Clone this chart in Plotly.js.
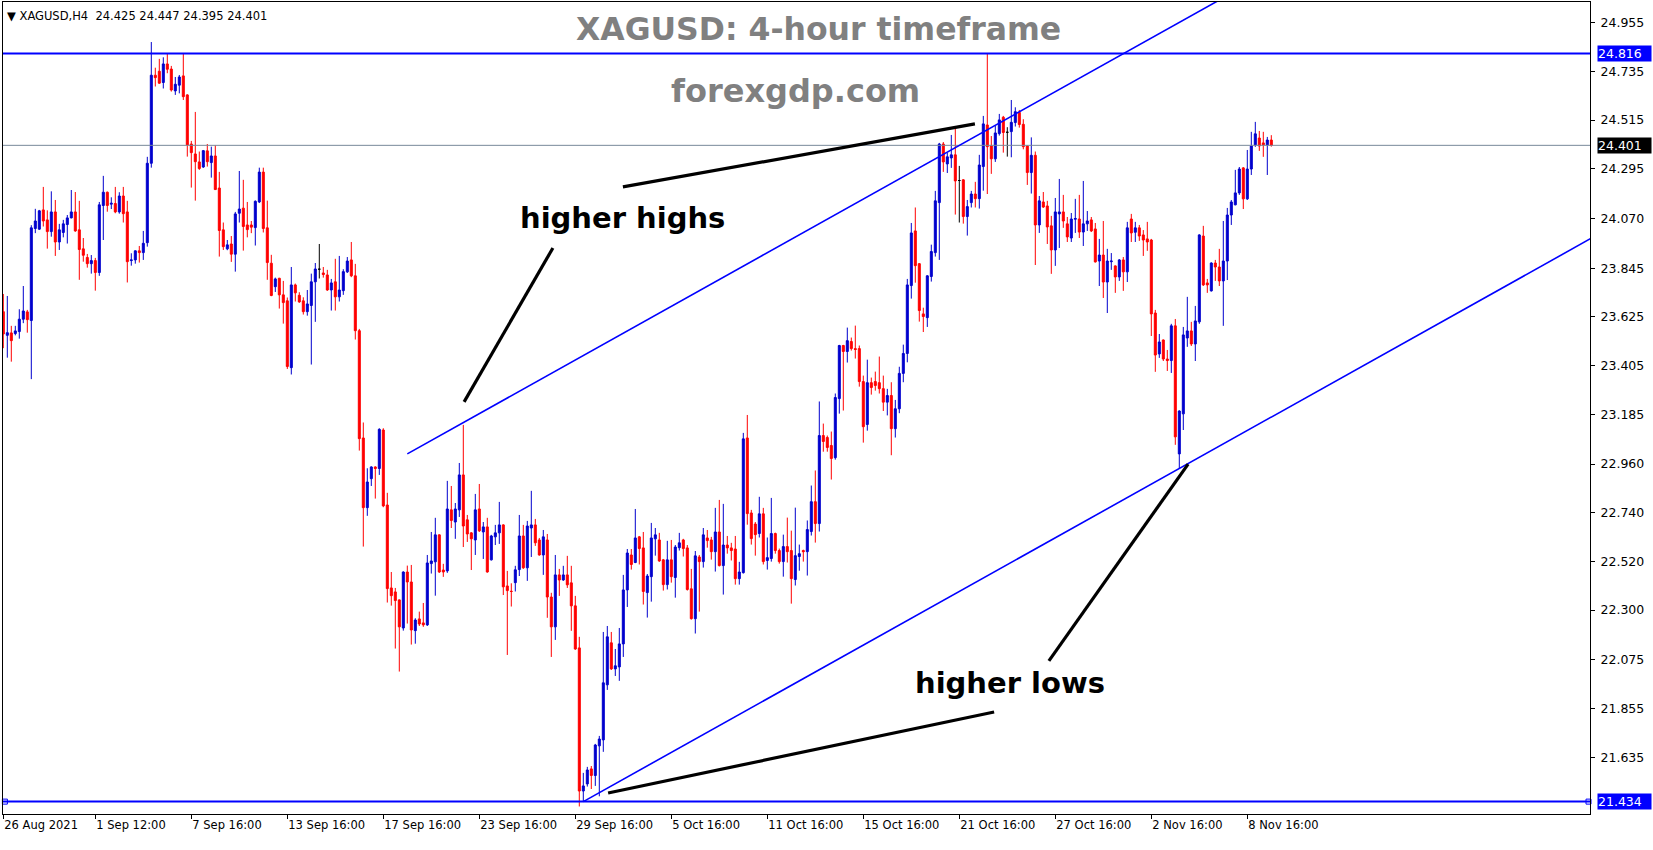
<!DOCTYPE html>
<html>
<head>
<meta charset="utf-8">
<script src="https://cdn.plot.ly/plotly-3.0.1.min.js"></script>
<style>
  html, body { margin: 0; padding: 0; background: #ffffff; }
  #chart { width: 1653px; height: 850px; }
</style>
</head>
<body>
<div id="chart"></div>
<script>
// XAGUSD H4 bars, oldest first (bar index 0 = 26 Aug 2021)
const symbolName = 'XAGUSD,H4';

const openP = [
  23.649, 23.542, 23.553, 23.550, 23.559, 23.615, 23.648, 23.609, 24.025, 24.022,
  24.109, 24.064, 24.011, 24.100, 23.964, 24.007, 24.043, 24.073, 24.100, 24.019,
  23.933, 23.894, 23.866, 23.880, 23.826, 24.129, 24.189, 24.135, 24.138, 24.100,
  24.172, 24.100, 23.880, 23.883, 23.924, 23.916, 23.961, 24.320, 24.718, 24.736,
  24.685, 24.769, 24.746, 24.647, 24.673, 24.715, 24.629, 24.407, 24.362, 24.326,
  24.303, 24.376, 24.323, 24.353, 24.208, 24.019, 23.933, 23.955, 23.909, 24.094,
  24.117, 24.041, 24.041, 24.029, 24.145, 24.280, 24.028, 23.868, 23.762, 23.800,
  23.725, 23.698, 23.396, 23.770, 23.723, 23.698, 23.649, 23.677, 23.784, 23.841,
  23.824, 23.815, 23.747, 23.784, 23.716, 23.744, 23.829, 23.883, 23.811, 23.563,
  23.078, 22.763, 22.894, 22.947, 22.940, 23.114, 22.775, 22.400, 22.382, 22.346,
  22.219, 22.472, 22.427, 22.207, 22.260, 22.242, 22.233, 22.510, 22.518, 22.640,
  22.481, 22.477, 22.753, 22.698, 22.753, 22.911, 22.708, 22.649, 22.617, 22.757,
  22.653, 22.676, 22.527, 22.631, 22.649, 22.685, 22.409, 22.385, 22.424, 22.483,
  22.635, 22.491, 22.671, 22.685, 22.617, 22.549, 22.617, 22.359, 22.224, 22.459,
  22.436, 22.459, 22.423, 22.319, 22.129, 21.482, 21.514, 21.582, 21.552, 21.686,
  21.713, 21.962, 22.152, 22.034, 22.043, 22.147, 22.391, 22.549, 22.515, 22.631,
  22.581, 22.379, 22.451, 22.622, 22.617, 22.527, 22.415, 22.527, 22.447, 22.582,
  22.617, 22.581, 22.396, 22.261, 22.540, 22.519, 22.626, 22.617, 22.564, 22.653,
  22.501, 22.594, 22.581, 22.576, 22.442, 22.469, 23.078, 22.739, 22.689, 22.646,
  22.735, 22.524, 22.533, 22.646, 22.569, 22.519, 22.587, 22.569, 22.438, 22.542,
  22.569, 22.564, 22.655, 22.790, 22.691, 23.089, 23.080, 23.044, 22.989, 23.256,
  23.496, 23.469, 23.514, 23.482, 23.482, 23.333, 23.139, 23.328, 23.333, 23.328,
  23.301, 23.240, 23.270, 23.120, 23.210, 23.370, 23.460, 23.767, 24.014, 23.866,
  23.639, 23.622, 23.808, 23.916, 24.142, 24.407, 24.317, 24.344, 24.358, 24.242,
  24.245, 24.079, 24.142, 24.181, 24.160, 24.305, 24.493, 24.398, 24.340, 24.454,
  24.528, 24.460, 24.463, 24.504, 24.550, 24.496, 24.398, 24.278, 24.356, 24.041,
  24.145, 24.127, 24.037, 23.928, 24.091, 24.100, 24.046, 23.982, 24.067, 24.068,
  24.009, 24.046, 24.064, 24.023, 23.878, 23.905, 23.783, 23.875, 23.856, 23.806,
  23.883, 23.829, 24.068, 24.008, 24.028, 23.996, 23.978, 23.973, 23.643, 23.458,
  23.521, 23.435, 23.428, 23.585, 23.006, 23.187, 23.530, 23.562, 23.503, 23.603,
  23.991, 23.779, 23.743, 23.869, 23.851, 23.788, 23.878, 24.086, 24.132, 24.186,
  24.299, 24.159, 24.294, 24.403, 24.434, 24.412, 24.403, 24.425
];

const highP = [
  23.729, 23.720, 23.585, 23.585, 23.660, 23.765, 23.657, 24.040, 24.114, 24.109,
  24.213, 24.107, 24.193, 24.154, 24.046, 24.064, 24.086, 24.199, 24.190, 24.150,
  23.982, 23.910, 23.905, 23.892, 24.145, 24.263, 24.192, 24.166, 24.213, 24.189,
  24.213, 24.150, 23.913, 23.926, 23.946, 24.014, 24.349, 24.868, 24.752, 24.792,
  24.799, 24.817, 24.760, 24.710, 24.719, 24.817, 24.632, 24.421, 24.552, 24.373,
  24.380, 24.407, 24.395, 24.401, 24.281, 24.052, 23.973, 23.991, 24.100, 24.285,
  24.245, 24.145, 24.059, 24.152, 24.300, 24.300, 24.151, 23.906, 23.803, 23.802,
  23.788, 23.713, 23.851, 23.776, 23.737, 23.714, 23.747, 23.821, 23.869, 23.955,
  23.851, 23.838, 23.797, 23.888, 23.901, 23.841, 23.896, 23.964, 23.865, 23.571,
  23.148, 22.941, 22.950, 22.950, 23.122, 23.122, 22.830, 22.472, 22.400, 22.348,
  22.475, 22.501, 22.504, 22.263, 22.293, 22.332, 22.549, 22.653, 22.717, 22.642,
  22.509, 22.884, 22.861, 22.784, 22.965, 23.137, 22.730, 22.652, 22.825, 22.870,
  22.698, 22.717, 22.640, 22.685, 22.789, 22.688, 22.477, 22.421, 22.500, 22.730,
  22.685, 22.703, 22.839, 22.712, 22.626, 22.662, 22.644, 22.378, 22.549, 22.486,
  22.500, 22.545, 22.500, 22.364, 22.179, 21.564, 21.591, 21.595, 21.695, 21.731,
  22.201, 22.228, 22.201, 22.124, 22.219, 22.459, 22.576, 22.576, 22.757, 22.635,
  22.653, 22.463, 22.694, 22.671, 22.649, 22.531, 22.613, 22.617, 22.594, 22.649,
  22.622, 22.594, 22.486, 22.567, 22.549, 22.671, 22.662, 22.631, 22.762, 22.798,
  22.780, 22.635, 22.604, 22.635, 22.518, 23.101, 23.182, 22.753, 22.698, 22.812,
  22.762, 22.628, 22.807, 22.650, 22.578, 22.641, 22.718, 22.659, 22.763, 22.596,
  22.573, 22.705, 22.863, 22.931, 23.243, 23.143, 23.089, 23.107, 23.279, 23.499,
  23.499, 23.577, 23.532, 23.586, 23.496, 23.360, 23.432, 23.351, 23.378, 23.446,
  23.360, 23.300, 23.330, 23.250, 23.400, 23.500, 23.797, 24.050, 24.120, 23.869,
  23.667, 23.814, 23.952, 24.195, 24.412, 24.416, 24.367, 24.448, 24.475, 24.308,
  24.248, 24.154, 24.195, 24.236, 24.358, 24.534, 24.816, 24.443, 24.489, 24.543,
  24.534, 24.483, 24.606, 24.573, 24.561, 24.519, 24.400, 24.437, 24.373, 24.172,
  24.190, 24.150, 24.082, 24.163, 24.249, 24.177, 24.077, 24.095, 24.159, 24.177,
  24.240, 24.104, 24.077, 24.050, 23.978, 24.059, 23.933, 23.914, 23.858, 23.887,
  23.896, 24.055, 24.091, 24.055, 24.041, 24.018, 24.055, 23.978, 23.657, 23.548,
  23.523, 23.476, 23.594, 23.616, 23.203, 23.580, 23.716, 23.603, 23.675, 23.999,
  24.037, 23.797, 23.872, 23.883, 23.933, 24.059, 24.118, 24.154, 24.290, 24.303,
  24.303, 24.380, 24.462, 24.507, 24.466, 24.462, 24.439, 24.447
];

const lowP = [
  23.484, 23.441, 23.423, 23.542, 23.527, 23.597, 23.554, 23.344, 24.004, 24.019,
  24.034, 23.934, 23.988, 23.901, 23.928, 23.985, 23.957, 24.071, 24.010, 23.793,
  23.875, 23.848, 23.821, 23.744, 23.811, 23.973, 24.101, 24.113, 24.094, 24.092,
  24.052, 23.781, 23.857, 23.866, 23.871, 23.883, 23.943, 24.300, 24.667, 24.679,
  24.658, 24.727, 24.644, 24.629, 24.636, 24.606, 24.350, 24.210, 24.151, 24.290,
  24.299, 24.305, 24.255, 24.199, 23.898, 23.928, 23.927, 23.874, 23.830, 24.052,
  23.925, 23.985, 24.004, 23.948, 24.140, 24.007, 23.793, 23.719, 23.738, 23.663,
  23.595, 23.390, 23.365, 23.695, 23.689, 23.636, 23.631, 23.410, 23.603, 23.799,
  23.803, 23.743, 23.654, 23.654, 23.695, 23.725, 23.824, 23.805, 23.523, 23.021,
  22.587, 22.726, 22.861, 22.804, 22.911, 22.765, 22.334, 22.320, 22.126, 22.022,
  22.207, 22.239, 22.144, 22.148, 22.228, 22.224, 22.228, 22.465, 22.365, 22.468,
  22.450, 22.468, 22.671, 22.622, 22.721, 22.585, 22.608, 22.481, 22.549, 22.653,
  22.531, 22.469, 22.524, 22.594, 22.599, 22.368, 22.097, 22.316, 22.384, 22.454,
  22.486, 22.432, 22.540, 22.590, 22.546, 22.459, 22.265, 22.088, 22.165, 22.364,
  22.432, 22.400, 22.206, 22.120, 21.412, 21.434, 21.502, 21.491, 21.505, 21.458,
  21.659, 21.939, 22.029, 22.002, 21.980, 22.088, 22.314, 22.483, 22.512, 22.506,
  22.325, 22.266, 22.338, 22.546, 22.518, 22.388, 22.393, 22.424, 22.356, 22.569,
  22.542, 22.388, 22.257, 22.194, 22.293, 22.492, 22.582, 22.528, 22.474, 22.497,
  22.370, 22.555, 22.524, 22.415, 22.415, 22.465, 22.686, 22.596, 22.546, 22.628,
  22.506, 22.483, 22.519, 22.555, 22.510, 22.451, 22.515, 22.329, 22.411, 22.478,
  22.519, 22.456, 22.637, 22.605, 22.655, 23.016, 23.016, 22.890, 22.980, 23.188,
  23.202, 23.419, 23.473, 23.437, 23.310, 23.057, 23.111, 23.274, 23.292, 23.279,
  23.200, 23.180, 23.000, 23.080, 23.190, 23.330, 23.420, 23.708, 23.780, 23.604,
  23.557, 23.580, 23.785, 23.898, 23.883, 24.281, 24.276, 24.299, 24.088, 24.052,
  24.047, 23.993, 24.120, 24.120, 24.115, 24.196, 24.181, 24.272, 24.326, 24.445,
  24.368, 24.350, 24.347, 24.486, 24.481, 24.383, 24.222, 24.183, 23.860, 24.005,
  24.118, 23.955, 23.820, 23.856, 23.937, 24.028, 23.964, 23.964, 24.005, 23.982,
  23.946, 24.014, 24.009, 23.871, 23.765, 23.711, 23.643, 23.838, 23.734, 23.788,
  23.743, 23.783, 23.964, 23.964, 23.969, 23.901, 23.924, 23.539, 23.377, 23.440,
  23.426, 23.381, 23.372, 23.047, 22.940, 23.114, 23.490, 23.494, 23.426, 23.594,
  23.765, 23.734, 23.740, 23.788, 23.765, 23.585, 23.792, 24.041, 24.130, 24.177,
  24.113, 24.154, 24.267, 24.394, 24.376, 24.349, 24.267, 24.395
];

const closeP = [
  23.548, 23.554, 23.518, 23.562, 23.615, 23.652, 23.613, 24.028, 24.059, 24.105,
  24.059, 24.011, 24.100, 23.964, 24.019, 24.046, 24.073, 24.100, 24.014, 23.930,
  23.904, 23.866, 23.880, 23.826, 24.132, 24.189, 24.129, 24.139, 24.100, 24.172,
  24.092, 23.875, 23.883, 23.924, 23.916, 23.958, 24.320, 24.718, 24.707, 24.682,
  24.769, 24.745, 24.651, 24.677, 24.710, 24.621, 24.403, 24.368, 24.327, 24.296,
  24.377, 24.327, 24.353, 24.201, 24.016, 23.943, 23.951, 23.909, 24.091, 24.113,
  24.034, 24.020, 24.031, 24.148, 24.280, 24.025, 23.871, 23.722, 23.797, 23.725,
  23.690, 23.401, 23.770, 23.734, 23.693, 23.649, 23.684, 23.784, 23.842, 23.841,
  23.817, 23.747, 23.779, 23.716, 23.747, 23.830, 23.878, 23.811, 23.563, 23.075,
  22.763, 22.879, 22.947, 22.940, 23.117, 22.771, 22.397, 22.365, 22.343, 22.224,
  22.472, 22.427, 22.210, 22.255, 22.237, 22.233, 22.513, 22.522, 22.640, 22.472,
  22.472, 22.757, 22.705, 22.757, 22.911, 22.680, 22.644, 22.622, 22.753, 22.658,
  22.676, 22.472, 22.635, 22.649, 22.685, 22.405, 22.388, 22.384, 22.482, 22.635,
  22.491, 22.680, 22.685, 22.604, 22.549, 22.631, 22.359, 22.224, 22.459, 22.436,
  22.459, 22.414, 22.319, 22.124, 21.482, 21.505, 21.577, 21.552, 21.690, 21.717,
  21.971, 22.179, 22.034, 22.048, 22.147, 22.391, 22.558, 22.506, 22.626, 22.578,
  22.384, 22.454, 22.626, 22.640, 22.522, 22.415, 22.527, 22.451, 22.585, 22.604,
  22.578, 22.393, 22.261, 22.545, 22.519, 22.640, 22.614, 22.564, 22.653, 22.501,
  22.594, 22.581, 22.569, 22.442, 22.472, 23.074, 22.736, 22.623, 22.641, 22.735,
  22.519, 22.537, 22.646, 22.569, 22.519, 22.587, 22.564, 22.442, 22.546, 22.555,
  22.564, 22.664, 22.790, 22.691, 23.089, 23.062, 23.035, 22.985, 23.261, 23.496,
  23.469, 23.518, 23.482, 23.478, 23.333, 23.129, 23.328, 23.306, 23.315, 23.301,
  23.240, 23.270, 23.120, 23.210, 23.370, 23.460, 23.770, 24.005, 23.857, 23.654,
  23.627, 23.811, 23.921, 24.150, 24.407, 24.326, 24.349, 24.358, 24.240, 24.242,
  24.079, 24.124, 24.181, 24.160, 24.312, 24.498, 24.395, 24.340, 24.457, 24.516,
  24.459, 24.460, 24.505, 24.553, 24.495, 24.395, 24.278, 24.356, 24.041, 24.150,
  24.122, 24.032, 23.928, 24.100, 24.100, 24.059, 23.987, 24.068, 24.070, 24.009,
  24.046, 24.059, 24.014, 23.874, 23.905, 23.783, 23.878, 23.878, 23.806, 23.883,
  23.829, 24.028, 24.005, 24.028, 23.991, 23.973, 23.964, 23.639, 23.453, 23.512,
  23.435, 23.428, 23.585, 23.083, 23.200, 23.544, 23.562, 23.503, 23.607, 23.996,
  23.770, 23.770, 23.869, 23.851, 23.788, 23.878, 24.086, 24.145, 24.186, 24.294,
  24.159, 24.294, 24.398, 24.453, 24.398, 24.403, 24.425, 24.401
];

// Time-scale labels (bar index -> label)
const tickBars = [0, 23, 47, 71, 95, 119, 143, 167, 191, 215, 239, 263, 287, 311];
const tickLabels = ['26 Aug 2021', '1 Sep 12:00', '7 Sep 16:00', '13 Sep 16:00', '17 Sep 16:00',
  '23 Sep 16:00', '29 Sep 16:00', '5 Oct 16:00', '11 Oct 16:00', '15 Oct 16:00',
  '21 Oct 16:00', '27 Oct 16:00', '2 Nov 16:00', '8 Nov 16:00'];

// Price-scale labels
const priceTicks = [24.955, 24.735, 24.515, 24.295, 24.070, 23.845, 23.625, 23.405,
  23.185, 22.960, 22.740, 22.520, 22.300, 22.075, 21.855, 21.635];

// Horizontal levels
const resistanceLevel = 24.816;
const supportLevel = 21.434;

// Channel trend lines: two anchor points each (bar index, price)
const upperChannelBars = [101, 250.4];
const upperChannelPrices = [23.006, 24.516];
const lowerChannelBars = [145, 294];
const lowerChannelPrices = [21.434, 22.940];

// Pointer strokes for the notes: [bar0, price0, bar1, price1]
const pointerHighsA = [115.2, 23.241, 137.4, 23.937];
const pointerHighsB = [154.9, 24.213, 242.9, 24.498];
const pointerLowsA = [151.2, 21.473, 247.7, 21.839];
const pointerLowsB = [261.4, 22.070, 296.2, 22.960];

// Text notes: [bar, price]
const titlePos = [203.9, 24.929];
const sitePos = [198.0, 24.648];
const highsNotePos = [154.9, 24.073];
const lowsNotePos = [251.6, 21.971];

const upColor = '#0000cd';
const downColor = '#ff0000';
const lineBlue = '#0000ff';
const fontFamily = 'DejaVu Sans, Verdana, sans-serif';
const axisFont = {family: fontFamily, size: 11.5, color: '#000000'};
const priceFont = {family: fontFamily, size: 12.5, color: '#000000'};

const barIdx = openP.map((_, i) => i);
const bodyBars = barIdx.filter(i => openP[i] !== closeP[i]);
const dojiBars = barIdx.filter(i => openP[i] === closeP[i]);
const pick = (arr, ids) => ids.map(i => arr[i]);

const lastBar = closeP.length - 1;
const lastClose = closeP[lastBar];

const xMin = -0.075, xMax = 396.675;
const yMin = 21.378, yMax = 25.049;

function extendRay(bars, prices, toBar) {
  const slope = (prices[1] - prices[0]) / (bars[1] - bars[0]);
  return {x0: bars[0], y0: prices[0], x1: toBar, y1: prices[0] + slope * (toBar - bars[0])};
}

const traces = [
  {
    type: 'candlestick',
    x: bodyBars,
    open: pick(openP, bodyBars),
    high: pick(highP, bodyBars),
    low: pick(lowP, bodyBars),
    close: pick(closeP, bodyBars),
    increasing: {line: {color: upColor, width: 1}, fillcolor: upColor},
    decreasing: {line: {color: downColor, width: 1}, fillcolor: downColor},
    whiskerwidth: 0,
    hoverinfo: 'skip',
    showlegend: false
  },
  {
    type: 'candlestick',
    x: dojiBars,
    open: pick(openP, dojiBars),
    high: pick(highP, dojiBars),
    low: pick(lowP, dojiBars),
    close: pick(closeP, dojiBars),
    increasing: {line: {color: '#000000', width: 1}, fillcolor: '#000000'},
    decreasing: {line: {color: '#000000', width: 1}, fillcolor: '#000000'},
    whiskerwidth: 0,
    hoverinfo: 'skip',
    showlegend: false
  },
  {
    // anchor squares of the support line
    type: 'scatter',
    mode: 'markers',
    x: [0.4, 396.3],
    y: [supportLevel, supportLevel],
    marker: {symbol: 'square-open', size: 5, color: lineBlue, line: {width: 1, color: lineBlue}},
    cliponaxis: false,
    hoverinfo: 'skip',
    showlegend: false
  }
];

const upperRay = extendRay(upperChannelBars, upperChannelPrices, 420);
const lowerRay = extendRay(lowerChannelBars, lowerChannelPrices, 420);

function pointer(p) {
  return {type: 'line', xref: 'x', yref: 'y', x0: p[0], y0: p[1], x1: p[2], y1: p[3],
    line: {color: '#000000', width: 3.2}};
}

const shapes = [
  {type: 'line', xref: 'paper', yref: 'y', x0: 0, x1: 1, y0: lastClose, y1: lastClose,
    line: {color: '#778899', width: 1}},
  {type: 'line', xref: 'paper', yref: 'y', x0: 0, x1: 1, y0: resistanceLevel, y1: resistanceLevel,
    line: {color: lineBlue, width: 2}},
  {type: 'line', xref: 'paper', yref: 'y', x0: 0, x1: 1, y0: supportLevel, y1: supportLevel,
    line: {color: lineBlue, width: 2}},
  Object.assign({type: 'line', xref: 'x', yref: 'y', line: {color: lineBlue, width: 1.6}}, upperRay),
  Object.assign({type: 'line', xref: 'x', yref: 'y', line: {color: lineBlue, width: 1.6}}, lowerRay),
  pointer(pointerHighsA),
  pointer(pointerHighsB),
  pointer(pointerLowsA),
  pointer(pointerLowsB)
];

function priceBox(value, color) {
  return {
    xref: 'paper', yref: 'y', x: 1, y: value, xanchor: 'left', yanchor: 'middle',
    xshift: 7, text: value.toFixed(3), showarrow: false,
    font: {family: fontFamily, size: 12.5, color: '#ffffff'},
    bgcolor: color, borderpad: 0, width: 53, align: 'left'
  };
}

const noteFont = {family: fontFamily, size: 29, color: '#000000'};
const titleFont = {family: fontFamily, size: 31.5, color: '#808080'};
const siteFont = {family: fontFamily, size: 32, color: '#808080'};

const headerText = '\u25BC ' + symbolName + '\u00a0\u00a0' +
  [openP[lastBar], highP[lastBar], lowP[lastBar], closeP[lastBar]].map(v => v.toFixed(3)).join(' ');

const annotations = [
  {xref: 'paper', yref: 'paper', x: 0, y: 1, xanchor: 'left', yanchor: 'top', xshift: 2, yshift: -5,
    text: headerText, showarrow: false, font: axisFont},
  {xref: 'x', yref: 'y', x: titlePos[0], y: titlePos[1], text: '<b>XAGUSD: 4-hour timeframe</b>',
    showarrow: false, font: titleFont},
  {xref: 'x', yref: 'y', x: sitePos[0], y: sitePos[1], text: '<b>forexgdp.com</b>',
    showarrow: false, font: siteFont},
  {xref: 'x', yref: 'y', x: highsNotePos[0], y: highsNotePos[1], text: '<b>higher highs</b>',
    showarrow: false, font: noteFont},
  {xref: 'x', yref: 'y', x: lowsNotePos[0], y: lowsNotePos[1], text: '<b>higher lows</b>',
    showarrow: false, font: noteFont},
  priceBox(resistanceLevel, lineBlue),
  priceBox(lastClose, '#000000'),
  priceBox(supportLevel, lineBlue)
];

const layout = {
  width: 1653,
  height: 850,
  margin: {l: 3, r: 63, t: 2, b: 36, pad: 0},
  paper_bgcolor: '#ffffff',
  plot_bgcolor: '#ffffff',
  showlegend: false,
  boxmode: 'overlay',
  boxgap: 0.5,
  boxgroupgap: 0,
  xaxis: {
    type: 'linear',
    range: [xMin, xMax],
    rangeslider: {visible: false},
    showgrid: false, zeroline: false,
    showline: true, mirror: true, linecolor: '#000000', linewidth: 1,
    tickmode: 'array', tickvals: tickBars, ticktext: tickLabels,
    ticks: 'outside', ticklen: 4, tickwidth: 1, tickcolor: '#000000',
    ticklabelposition: 'outside right',
    tickfont: axisFont,
    fixedrange: true
  },
  yaxis: {
    type: 'linear',
    side: 'right',
    range: [yMin, yMax],
    showgrid: false, zeroline: false,
    showline: true, mirror: true, linecolor: '#000000', linewidth: 1,
    tickmode: 'array', tickvals: priceTicks, ticktext: priceTicks.map(v => v.toFixed(3)),
    ticks: 'outside', ticklen: 4, tickwidth: 1, tickcolor: '#000000',
    ticklabelstandoff: 3,
    tickfont: priceFont,
    fixedrange: true
  },
  shapes: shapes,
  annotations: annotations
};

Plotly.newPlot('chart', traces, layout, {displayModeBar: false, staticPlot: true});
</script>
</body>
</html>
